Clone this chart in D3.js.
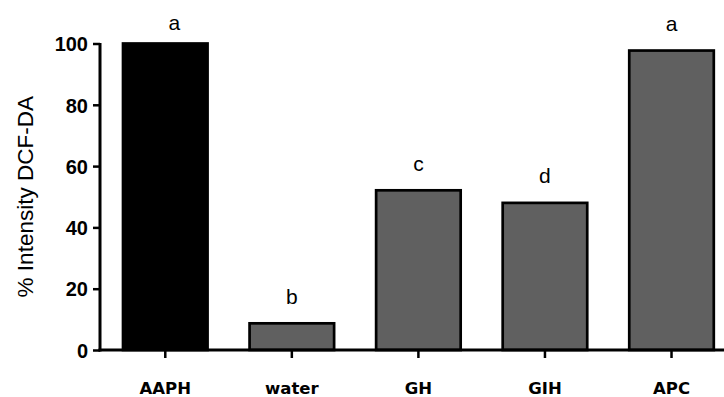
<!DOCTYPE html>
<html>
<head>
<meta charset="utf-8">
<script src="https://cdn.jsdelivr.net/npm/d3@7/dist/d3.min.js"></script>
<style>
  html, body { margin: 0; padding: 0; background: #fff; }
  svg { display: block; }
</style>
</head>
<body>
<svg id="chart" width="724" height="397"></svg>
<script>
const categories = ["AAPH", "water", "GH", "GIH", "APC"];
const values = [100, 8.7, 52.1, 48.0, 97.7];
const letters = ["a", "b", "c", "d", "a"];
const fills = ["#000000", "#606060", "#606060", "#606060", "#606060"];
const yTicks = [0, 20, 40, 60, 80, 100];
const yTitle = "% Intensity DCF-DA";

const svg = d3.select("#chart");
const x0 = 100, yBase = 350;

const y = d3.scaleLinear().domain([0, 100]).range([yBase, 43.5]);
const x = d3.scaleBand().domain(categories).range([102, 734.8])
  .paddingInner(0.332).paddingOuter(0.166);

// bars
svg.append("g").selectAll("rect").data(categories).join("rect")
  .attr("x", d => x(d))
  .attr("width", x.bandwidth())
  .attr("y", (d, i) => y(values[i]))
  .attr("height", (d, i) => y(0) - y(values[i]))
  .attr("fill", (d, i) => fills[i])
  .attr("stroke", "#000")
  .attr("stroke-width", 2.7);

// y axis
const yAxis = svg.append("g").attr("transform", `translate(${x0},0)`)
  .call(d3.axisLeft(y).tickValues(yTicks).tickSize(7).tickPadding(5).tickSizeOuter(0));
yAxis.select(".domain").attr("stroke", "#000").attr("stroke-width", 3)
  .attr("d", `M0,${y(100) - 0.5}V${yBase + 1.5}`);
yAxis.selectAll(".tick line").attr("stroke", "#000").attr("stroke-width", 2.5);
yAxis.selectAll(".tick text")
  .attr("font-family", "Liberation Sans, Arial, sans-serif")
  .attr("font-weight", "bold").attr("font-size", 20).attr("fill", "#000")
  .attr("dy", "0.36em");

// x axis
const xAxis = svg.append("g").attr("transform", `translate(0,${yBase})`)
  .call(d3.axisBottom(x).tickSize(8).tickPadding(24).tickSizeOuter(0));
xAxis.select(".domain").attr("stroke", "#000").attr("stroke-width", 3)
  .attr("d", `M${x0 - 1.5},0H724`);
xAxis.selectAll(".tick line").attr("stroke", "#000").attr("stroke-width", 2.5);
xAxis.selectAll(".tick text")
  .attr("font-family", "DejaVu Sans, Verdana, sans-serif")
  .attr("font-weight", "bold").attr("font-size", 16.5).attr("fill", "#000")
  .attr("dy", "0.71em");

// significance letters
svg.append("g").selectAll("text").data(categories).join("text")
  .attr("x", (d, i) => {
    const cx = x(d) + x.bandwidth() / 2;
    return (y(values[i]) - 19.5 < 30) && i === 0 ? cx + 9 : cx;
  })
  .attr("y", (d, i) => Math.max(y(values[i]) - 19.5, 30))
  .attr("text-anchor", "middle")
  .attr("font-family", "Liberation Sans, Arial, sans-serif")
  .attr("font-size", 21).attr("fill", "#000")
  .text((d, i) => letters[i]);

// y title
svg.append("text")
  .attr("transform", `translate(33,${(y(100) + yBase) / 2 + 0}) rotate(-90)`)
  .attr("text-anchor", "middle")
  .attr("font-family", "Liberation Sans, Arial, sans-serif")
  .attr("font-size", 22.5).attr("fill", "#000")
  .text(yTitle);
</script>
</body>
</html>
